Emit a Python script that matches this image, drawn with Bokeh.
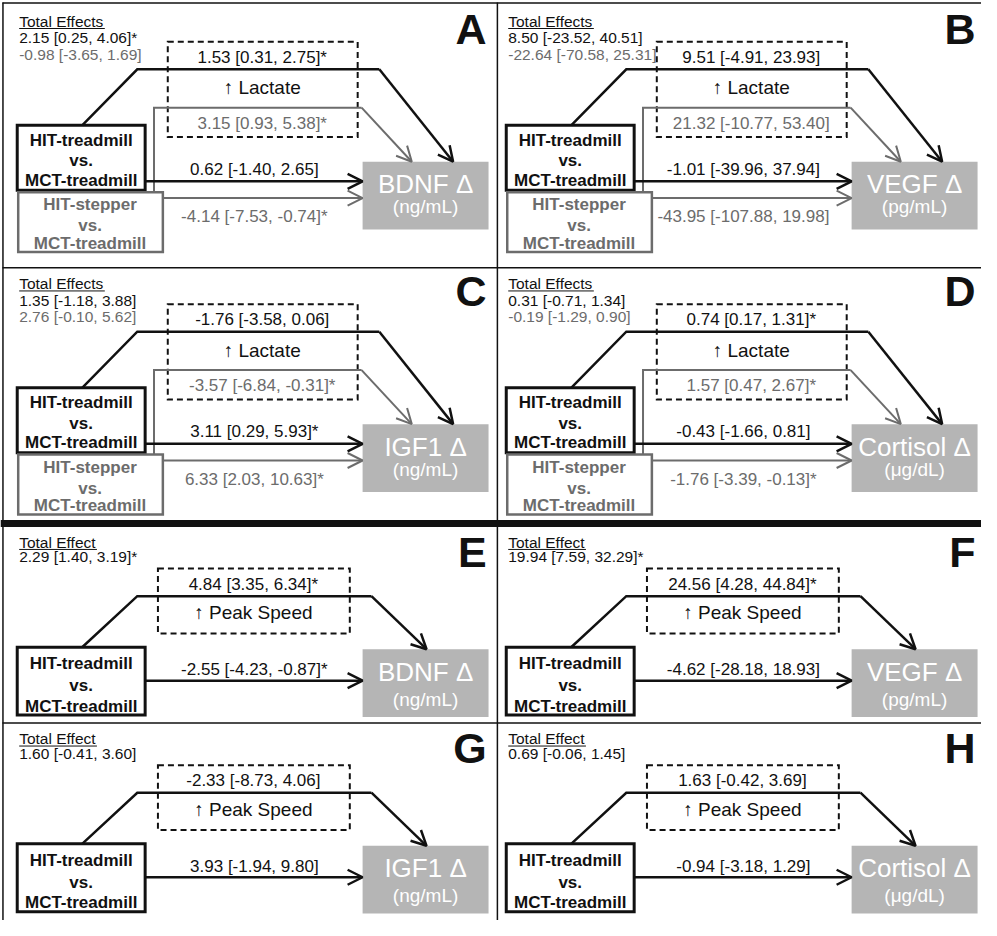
from bokeh.plotting import figure
from bokeh.models import Range1d, Arrow, OpenHead
from bokeh.embed import file_html
from bokeh.resources import INLINE
from bokeh.core.properties import value

# ---------------- data ----------------
top_letters = ["A", "B", "C", "D"]
bottom_letters = ["E", "F", "G", "H"]
outcomes = ["BDNF \u0394", "VEGF \u0394", "IGF1 \u0394", "Cortisol \u0394"]
units = ["(ng/mL)", "(pg/mL)", "(ng/mL)", "(\u03bcg/dL)"]

top_total_tread = ["2.15 [0.25, 4.06]*", "8.50 [-23.52, 40.51]", "1.35 [-1.18, 3.88]", "0.31 [-0.71, 1.34]"]
top_total_step = ["-0.98 [-3.65, 1.69]", "-22.64 [-70.58, 25.31]", "2.76 [-0.10, 5.62]", "-0.19 [-1.29, 0.90]"]
top_med_tread = ["1.53 [0.31, 2.75]*", "9.51 [-4.91, 23.93]", "-1.76 [-3.58, 0.06]", "0.74 [0.17, 1.31]*"]
top_med_step = ["3.15 [0.93, 5.38]*", "21.32 [-10.77, 53.40]", "-3.57 [-6.84, -0.31]*", "1.57 [0.47, 2.67]*"]
top_direct_tread = ["0.62 [-1.40, 2.65]", "-1.01 [-39.96, 37.94]", "3.11 [0.29, 5.93]*", "-0.43 [-1.66, 0.81]"]
top_direct_step = ["-4.14 [-7.53, -0.74]*", "-43.95 [-107.88, 19.98]", "6.33 [2.03, 10.63]*", "-1.76 [-3.39, -0.13]*"]
top_mediator = "\u2191 Lactate"

bottom_total = ["2.29 [1.40, 3.19]*", "19.94 [7.59, 32.29]*", "1.60 [-0.41, 3.60]", "0.69 [-0.06, 1.45]"]
bottom_med = ["4.84 [3.35, 6.34]*", "24.56 [4.28, 44.84]*", "-2.33 [-8.73, 4.06]", "1.63 [-0.42, 3.69]"]
bottom_direct = ["-2.55 [-4.23, -0.87]*", "-4.62 [-28.18, 18.93]", "3.93 [-1.94, 9.80]", "-0.94 [-3.18, 1.29]"]
bottom_mediator = "\u2191 Peak Speed"

group_tread = ["HIT-treadmill", "vs.", "MCT-treadmill"]
group_step = ["HIT-stepper", "vs.", "MCT-treadmill"]

# ---------------- style ----------------
FONT = "'Liberation Sans', 'DejaVu Sans'"
BLACK = "#111111"
GRAY = "#6c6c6c"
BOXFILL = "#b5b5b5"

p = figure(width=981, height=920, x_range=Range1d(0, 997), y_range=Range1d(936, 0),
           output_backend="svg", toolbar_location=None, min_border=0,
           x_axis_location=None, y_axis_location=None)
p.grid.visible = False
p.outline_line_color = None
p.background_fill_color = "white"
p.border_fill_color = "white"


def txt(x, y, s, size, color=BLACK, align="center", bold=False):
    p.text(x=[x], y=[y], text=[s], text_font=value(FONT), text_font_size=value(f"{size}px"),
           text_color=color, text_align=align, text_baseline="middle",
           text_font_style="bold" if bold else "normal")


def box(l, r, t, b, color=BLACK, lw=2, dash="solid", fill=None):
    p.quad(left=[l], right=[r], top=[t], bottom=[b], fill_color=fill,
           line_color=color if lw > 0 else None, line_width=max(lw, 0.01), line_dash=dash,
           line_join="miter")


def path(xs, ys, color, lw):
    p.line(x=xs, y=ys, line_color=color, line_width=lw, line_join="miter")


def arrow(x0, y0, x1, y1, color, lw):
    p.add_layout(Arrow(end=OpenHead(size=15, line_width=lw, line_color=color),
                       x_start=x0, y_start=y0, x_end=x1, y_end=y1,
                       line_color=color, line_width=lw))


def letter(ox, y, s):
    txt(494 + ox, y, s, 43, BLACK, align="right", bold=True)


def top_panel(i, ox, oy):
    X = lambda v: v + ox
    Y = lambda v: v + oy
    txt(X(19), Y(21), "Total Effects", 15.5, BLACK, align="left")
    path([X(19), X(106)], [Y(28.5), Y(28.5)], BLACK, 1)
    txt(X(19), Y(38), top_total_tread[i], 15.5, BLACK, align="left")
    txt(X(19), Y(55), top_total_step[i], 15.5, GRAY, align="left")
    letter(ox, Y(29), top_letters[i])
    # mediator
    box(X(170), X(363), Y(42), Y(139), BLACK, 2, "6 4")
    txt(X(266), Y(89), top_mediator, 19, BLACK)
    path([X(83), X(139), X(385)], [Y(127), Y(70), Y(70)], BLACK, 2.5)
    arrow(X(385), Y(70), X(460), Y(164), BLACK, 2.5)
    txt(X(266), Y(58), top_med_tread[i], 17, BLACK)
    path([X(156), X(156), X(367)], [Y(195), Y(109), Y(109)], GRAY, 2)
    arrow(X(367), Y(109), X(418), Y(164), GRAY, 2)
    txt(X(266), Y(125), top_med_step[i], 17, GRAY)
    # group boxes
    box(X(17), X(147), Y(127), Y(193), BLACK, 3)
    for s, yy in zip(group_tread, [142, 163, 183]):
        txt(X(82), Y(yy), s, 17, BLACK, bold=True)
    box(X(18), X(165), Y(195), Y(256), GRAY, 2.5)
    for s, yy in zip(group_step, [208, 229, 247]):
        txt(X(91), Y(yy), s, 17, GRAY, bold=True)
    # outcome
    box(X(368), X(496), Y(164), Y(233), None, 0, fill=BOXFILL)
    txt(X(432), Y(187), outcomes[i], 26, "white")
    txt(X(432), Y(210), units[i], 19, "white")
    # direct effects
    arrow(X(147), Y(184), X(368), Y(184), BLACK, 2.5)
    txt(X(258), Y(172), top_direct_tread[i], 17, BLACK)
    arrow(X(165), Y(201), X(368), Y(201), GRAY, 2)
    txt(X(258), Y(220), top_direct_step[i], 17, GRAY)


def bottom_panel(i, ox, oy):
    X = lambda v: v + ox
    Y = lambda v: v + oy
    txt(X(19), Y(551), "Total Effect", 15.5, BLACK, align="left")
    path([X(19), X(98)], [Y(558.5), Y(558.5)], BLACK, 1)
    txt(X(19), Y(566), bottom_total[i], 15.5, BLACK, align="left")
    letter(ox, Y(561), bottom_letters[i])
    box(X(160), X(355), Y(578), Y(644), BLACK, 2, "6 4")
    txt(X(257), Y(623), bottom_mediator, 19, BLACK)
    path([X(83), X(139), X(377)], [Y(658), Y(606), Y(606)], BLACK, 2.5)
    arrow(X(377), Y(606), X(433), Y(660), BLACK, 2.5)
    txt(X(257), Y(594), bottom_med[i], 17, BLACK)
    box(X(17), X(147), Y(658), Y(727), BLACK, 3)
    for s, yy in zip(group_tread, [675, 697, 718]):
        txt(X(82), Y(yy), s, 17, BLACK, bold=True)
    box(X(368), X(496), Y(660), Y(729), None, 0, fill=BOXFILL)
    txt(X(432), Y(683), outcomes[i], 26, "white")
    txt(X(432), Y(711), units[i], 19, "white")
    arrow(X(147), Y(692), X(368), Y(692), BLACK, 2.5)
    txt(X(258), Y(681), bottom_direct[i], 17, BLACK)


# frame lines
path([2.5, 2.5], [2, 936], BLACK, 1.5)
path([2, 997], [2.5, 2.5], BLACK, 1.5)
path([505, 505], [2, 936], BLACK, 1.5)
path([2, 997], [272, 272], BLACK, 1.5)
path([2, 997], [735, 735], BLACK, 1.5)
path([0, 997], [532, 532], BLACK, 7)

for i, (ox, oy) in enumerate([(0, 0), (497, 0), (0, 267), (497, 267)]):
    top_panel(i, ox, oy)
for i, (ox, oy) in enumerate([(0, 0), (497, 0), (0, 200), (497, 200)]):
    bottom_panel(i, ox, oy)

open("out.html", "w").write(file_html(p, INLINE))
